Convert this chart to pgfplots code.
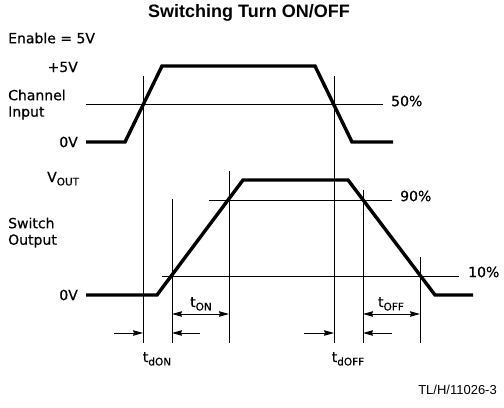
\documentclass[border=0pt]{standalone}
\usepackage{fontspec}
\setmainfont{Liberation Sans}
\newfontfamily\labfont[FakeBold=0.6]{DejaVu Sans}
\usepackage{pgfplots}
\pgfplotsset{compat=1.18}
\usetikzlibrary{arrows.meta}

% subscript used for t_ON, V_OUT, ...
\newcommand\sub[1]{\raisebox{-0.45ex}{\fontsize{10.5bp}{11bp}\selectfont #1}}
\tikzset{
    lab/.style={font=\labfont\fontsize{14bp}{16bp}\selectfont, inner sep=0},
    thinl/.style={line width=0.9bp},
    trace/.style={line width=3.4bp, line join=miter},
    arr/.style={-{Stealth[length=10bp,width=5.5bp,inset=1bp]}},
    darr/.style={{Stealth[length=10bp,width=5.5bp,inset=1bp]}-{Stealth[length=10bp,width=5.5bp,inset=1bp]}},
}

\begin{document}
\begin{tikzpicture}
\begin{axis}[
    scale only axis,
    width=504bp, height=408bp,
    xmin=0, xmax=504, ymin=0, ymax=408,
    y dir=reverse,
    hide axis,
    clip=false,
    every axis plot/.append style={black},
]
% keep the whole frame in the bounding box
\path (axis cs:0,0) rectangle (axis cs:504,408);

% channel input
\addplot[trace] coordinates {(86,142) (125,142) (162,66) (315,66) (352,142) (393,142)};
% switch output
\addplot[trace] coordinates {(86,295) (157,295) (243,180) (348,180) (435,295) (473,295)};

% reference levels
\addplot[thinl] coordinates {(86,104) (383,104)};
\addplot[thinl] coordinates {(209,200) (392,200)};
\addplot[thinl] coordinates {(162,276) (459,276)};

% timing verticals
\addplot[thinl] coordinates {(143,76) (143,343)};
\addplot[thinl] coordinates {(334,76) (334,343)};
\addplot[thinl] coordinates {(172,199) (172,343)};
\addplot[thinl] coordinates {(229,171) (229,343)};
\addplot[thinl] coordinates {(363,190) (363,343)};
\addplot[thinl] coordinates {(420,257) (420,343)};

% dimension arrows
\addplot[thinl, darr] coordinates {(172,314) (229,314)};
\addplot[thinl, darr] coordinates {(363,314) (420,314)};
\addplot[thinl, arr] coordinates {(114,333) (143,333)};
\addplot[thinl, arr] coordinates {(200,333) (172,333)};
\addplot[thinl, arr] coordinates {(304,333) (334,333)};
\addplot[thinl, arr] coordinates {(392,333) (363,333)};

% texts
\node[font=\fontsize{18bp}{20bp}\selectfont\bfseries] at (axis cs:249,13) {Switching Turn ON/OFF};
\node[lab, anchor=west] at (axis cs:8,38) {Enable = 5V};
\node[lab, anchor=east] at (axis cs:78,67) {+5V};
\node[lab, anchor=west] at (axis cs:8,95) {Channel};
\node[lab, anchor=west] at (axis cs:8,113) {Input};
\node[lab, anchor=east] at (axis cs:78,142) {0V};
\node[lab, anchor=west] at (axis cs:391,101) {50\%};
\node[lab, anchor=base west] at (axis cs:47,182) {V\sub{OUT}};
\node[lab, anchor=west] at (axis cs:8,223) {Switch};
\node[lab, anchor=west] at (axis cs:8,241) {Output};
\node[lab, anchor=east] at (axis cs:78,295) {0V};
\node[lab, anchor=west] at (axis cs:400,196) {90\%};
\node[lab, anchor=west] at (axis cs:468,272) {10\%};
\node[lab, anchor=base] at (axis cs:201,307) {t\sub{ON}};
\node[lab, anchor=base] at (axis cs:391,307) {t\sub{OFF}};
\node[lab, anchor=base] at (axis cs:157,362) {t\sub{dON}};
\node[lab, anchor=base] at (axis cs:348,362) {t\sub{dOFF}};
\node[font=\fontsize{13bp}{14bp}\selectfont, anchor=east, inner sep=0] at (axis cs:497,390) {TL/H/11026-3};
\end{axis}
\end{tikzpicture}
\end{document}
